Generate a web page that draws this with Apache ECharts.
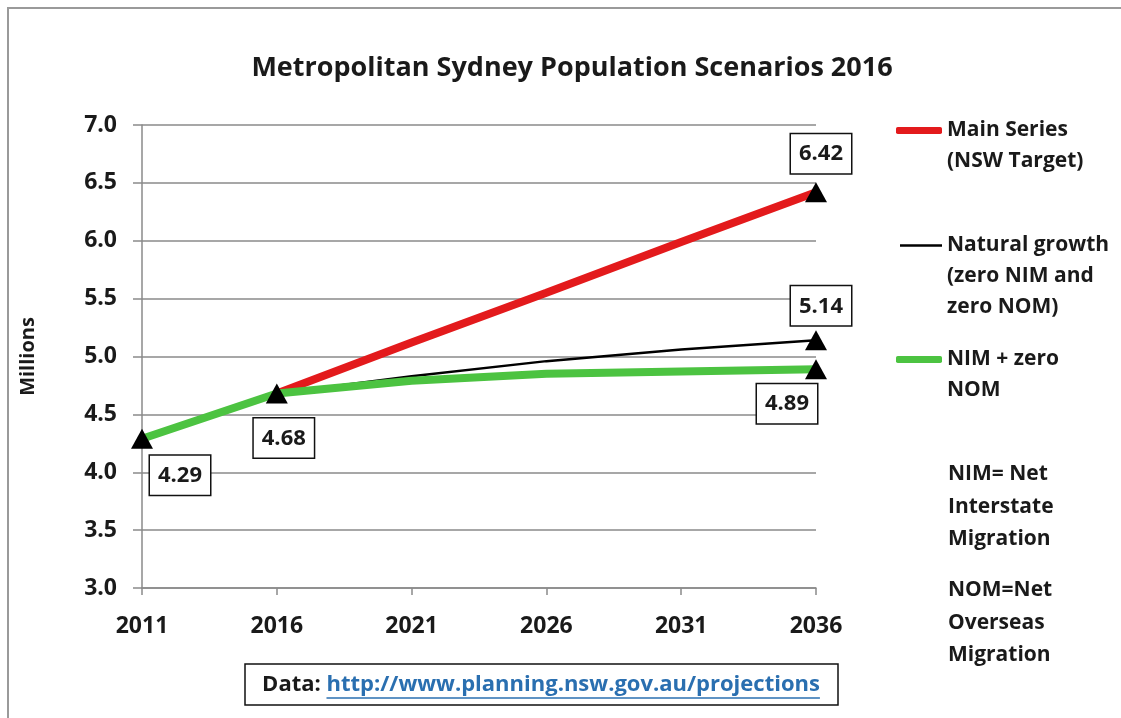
<!DOCTYPE html>
<html>
<head>
<meta charset="utf-8">
<title>Metropolitan Sydney Population Scenarios 2016</title>
<script src="https://cdn.jsdelivr.net/npm/echarts@6/dist/echarts.min.js"></script>
<style>
  html, body { margin: 0; padding: 0; background: #fff; }
  #main { width: 1121px; height: 718px; }
</style>
</head>
<body>
<div id="main"></div>
<script>
// 数据
var years = ['2011', '2016', '2021', '2026', '2031', '2036'];
var mainSeries = [null, 4.68, 5.12, 5.55, 5.99, 6.42];       // NSW Target
var naturalGrowth = [4.29, 4.68, 4.83, 4.96, 5.06, 5.14];    // zero NIM and zero NOM
var nimZeroNom = [4.29, 4.68, 4.79, 4.85, 4.87, 4.89];       // NIM + zero NOM
var yTicks = ['3.0', '3.5', '4.0', '4.5', '5.0', '5.5', '6.0', '6.5', '7.0'];

var FONT = '"Open Sans", sans-serif';
var TXT = '#1a1a1a';

// 哪些点带三角形 + 数字框, 以及框的位置
var labelBox = {
  backgroundColor: '#fff',
  borderColor: '#111',
  borderWidth: 1.5,
  padding: [9, 8, 8, 8],
  color: TXT,
  fontFamily: FONT,
  fontWeight: 'bold',
  fontSize: 22,
  show: true,
  formatter: function (p) { return p.value.toFixed(2); }
};
var marks = {
  main: { 5: { position: 'top', distance: 9, offset: [5, 0] } },
  natural: { 5: { position: 'top', distance: 5, offset: [5, 0] } },
  nim: {
    0: { position: 'bottom', distance: 7, offset: [38, 0] },
    1: { position: 'bottom', distance: 15, offset: [7, 0] },
    5: { position: 'bottom', distance: 5, offset: [-29, 0] }
  }
};

function buildData(arr, spots) {
  return arr.map(function (v, i) {
    if (v == null) return '-';
    if (!spots[i]) return v;
    return {
      value: v,
      symbol: 'triangle',
      symbolSize: [22, 20],
      itemStyle: { color: '#000' },
      label: Object.assign({}, labelBox, spots[i])
    };
  });
}

var myChart = echarts.init(document.getElementById('main'));

// 底部 url 下划线位置 (用 canvas 量一下宽度)
var FOOT_FONT = 'bold 22px ' + FONT;
var ctx = document.createElement('canvas').getContext('2d');
ctx.font = FOOT_FONT;
var wData = ctx.measureText('Data: ').width;
var url = 'http://www.planning.nsw.gov.au/projections';
var wUrl = ctx.measureText(url).width;
var footCx = 541;
var footLeft = footCx - (wData + wUrl) / 2;

var legendText = { color: TXT, fontFamily: FONT, fontWeight: 'bold', fontSize: 21, lineHeight: 31 };

myChart.setOption({
  animation: false,
  backgroundColor: '#fff',
  title: {
    text: 'Metropolitan Sydney Population Scenarios 2016',
    left: 567,
    textAlign: 'center',
    top: 50,
    textStyle: { color: TXT, fontFamily: FONT, fontWeight: 'bold', fontSize: 27 }
  },
  legend: [
    {
      data: [{ name: 'Main Series', icon: 'roundRect', itemStyle: { color: '#e31a1c' } }],
      left: 896, top: 84, padding: 0,
      itemWidth: 46, itemHeight: 7,
      formatter: function () { return '\nMain Series\n(NSW Target)'; },
      textStyle: legendText
    },
    {
      data: [{ name: 'Natural growth', icon: 'rect', itemStyle: { color: '#000' } }],
      left: 900, top: 168, padding: 0,
      itemWidth: 42, itemHeight: 2.5,
      formatter: function () { return '\n\nNatural growth\n(zero NIM and\nzero NOM)'; },
      textStyle: legendText
    },
    {
      data: [{ name: 'NIM + zero NOM', icon: 'roundRect', itemStyle: { color: '#4cc341' } }],
      left: 896, top: 313, padding: 0,
      itemWidth: 46, itemHeight: 7,
      formatter: function () { return '\nNIM + zero\nNOM'; },
      textStyle: legendText
    }
  ],
  grid: { left: 142, right: 305, top: 125, bottom: 130 },
  xAxis: {
    type: 'category',
    data: years,
    boundaryGap: false,
    axisLine: { lineStyle: { color: '#8a8a8a', width: 1.5 } },
    axisTick: { show: true, length: 7, lineStyle: { color: '#8a8a8a', width: 1.5 } },
    axisLabel: { color: TXT, fontFamily: FONT, fontWeight: 'bold', fontSize: 23, margin: 27 },
    splitLine: { show: false }
  },
  yAxis: {
    type: 'value',
    min: 3.0,
    max: 7.0,
    interval: 0.5,
    name: 'Millions',
    nameLocation: 'middle',
    nameGap: 104,
    nameTextStyle: { color: TXT, fontFamily: FONT, fontWeight: 'bold', fontSize: 20 },
    axisLine: { show: true, lineStyle: { color: '#8a8a8a', width: 1.5 } },
    axisTick: { show: true, length: 9, lineStyle: { color: '#8a8a8a', width: 1.5 } },
    axisLabel: {
      color: TXT, fontFamily: FONT, fontWeight: 'bold', fontSize: 23, margin: 25,
      formatter: function (v) { return yTicks[Math.round((v - 3) / 0.5)]; }
    },
    splitLine: { lineStyle: { color: '#8a8a8a', width: 1.5 } }
  },
  series: [
    {
      name: 'Main Series',
      type: 'line',
      data: buildData(mainSeries, marks.main),
      symbol: 'none',
      lineStyle: { color: '#e31a1c', width: 8 },
      itemStyle: { color: '#e31a1c' },
      z: 3
    },
    {
      name: 'Natural growth',
      type: 'line',
      data: buildData(naturalGrowth, marks.natural),
      symbol: 'none',
      lineStyle: { color: '#000', width: 2.5 },
      itemStyle: { color: '#000' },
      z: 2
    },
    {
      name: 'NIM + zero NOM',
      type: 'line',
      data: buildData(nimZeroNom, marks.nim),
      symbol: 'none',
      lineStyle: { color: '#4cc341', width: 8 },
      itemStyle: { color: '#4cc341' },
      z: 4
    }
  ],
  graphic: [
    // 外框
    { type: 'rect', shape: { x: 8, y: 8, width: 1130, height: 730 }, style: { fill: 'none', stroke: '#9a9a9a', lineWidth: 2 }, silent: true },
    // 说明
    {
      type: 'text', left: 948, top: 458,
      style: { text: 'NIM= Net\nInterstate\nMigration', fill: TXT, font: 'bold 21px ' + FONT, lineHeight: 32.5 }
    },
    {
      type: 'text', left: 948, top: 574,
      style: { text: 'NOM=Net\nOverseas\nMigration', fill: TXT, font: 'bold 21px ' + FONT, lineHeight: 32.5 }
    },
    // 数据来源
    { type: 'rect', shape: { x: 245, y: 664, width: 593, height: 41 }, style: { fill: '#fff', stroke: '#111', lineWidth: 1.5 } },
    {
      type: 'text', x: footLeft, y: 685,
      style: {
        text: '{a|Data: }{b|' + url + '}',
        verticalAlign: 'middle',
        rich: {
          a: { fill: TXT, font: FOOT_FONT },
          b: { fill: '#2a6fb0', font: FOOT_FONT }
        }
      }
    },
    { type: 'line', shape: { x1: footLeft + wData, y1: 698, x2: footLeft + wData + wUrl, y2: 698 }, style: { stroke: '#2a6fb0', lineWidth: 1.5 } }
  ]
});
</script>
</body>
</html>
